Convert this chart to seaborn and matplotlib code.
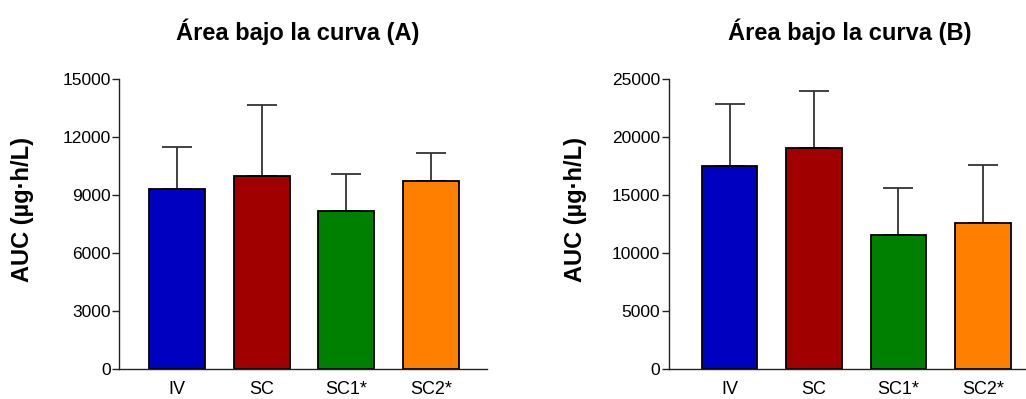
import numpy as np
import pandas as pd
import seaborn as sns
import matplotlib
matplotlib.use("Agg")
import matplotlib.pyplot as plt
from matplotlib import font_manager

# data (mean and upper SD)
categories = ["IV", "SC", "SC1*", "SC2*"]
colors = ["#0000C0", "#A00000", "#008000", "#FF8000"]

auc_a_mean = [9320, 10000, 8170, 9720]
auc_a_top = [11500, 13670, 10090, 11160]
auc_b_mean = [17520, 19020, 11550, 12610]
auc_b_top = [22870, 23990, 15580, 17610]

titles = ["Área bajo la curva (A)", "Área bajo la curva (B)"]
ylabel = "AUC (µg·h/L)"
yticks_a = [0, 3000, 6000, 9000, 12000, 15000]
yticks_b = [0, 5000, 10000, 15000, 20000, 25000]

sns.set_style("white")
plt.rcParams["font.family"] = ["Liberation Sans", "DejaVu Sans"]
plt.rcParams["text.color"] = "black"
plt.rcParams["axes.labelcolor"] = "black"
plt.rcParams["xtick.color"] = "black"
plt.rcParams["ytick.color"] = "black"

installed = {f.name for f in font_manager.fontManager.ttflist}
if "Liberation Sans Narrow" in installed:
    title_family, title_size = ["Liberation Sans Narrow", "Liberation Sans"], 20
else:
    title_family, title_size = ["Liberation Sans", "DejaVu Sans"], 17

fig = plt.figure(figsize=(10.26, 3.99), dpi=100)
ax_a = fig.add_axes([119 / 1026, 30 / 399, 368 / 1026, 290 / 399])
ax_b = fig.add_axes([668.7 / 1026, 30 / 399, 357.3 / 1026, 290 / 399])

panels = [
    (ax_a, auc_a_mean, auc_a_top, yticks_a, (-0.685, 3.66), 0.485),
    (ax_b, auc_b_mean, auc_b_top, yticks_b, (-0.72, 3.51), 0.507),
]

for i, (ax, means, tops, yticks, xlim, tx) in enumerate(panels):
    df = pd.DataFrame({"grupo": categories, "auc": means})
    sns.barplot(data=df, x="grupo", y="auc", hue="grupo", palette=colors,
                legend=False, width=0.66, edgecolor="black", linewidth=1.3,
                saturation=1, ax=ax, zorder=2)
    pos = np.arange(len(categories))
    upper = np.array(tops) - np.array(means)
    ax.errorbar(pos, means, yerr=[np.zeros(len(pos)), upper], fmt="none",
                ecolor="#333333", elinewidth=1.3, capsize=10.5, capthick=1.3,
                zorder=1)

    ax.set_ylim(0, yticks[-1])
    ax.set_yticks(yticks)
    ax.set_xlim(*xlim)
    ax.set_xlabel("")
    ax.set_ylabel(ylabel, fontsize=17, fontweight="bold")
    ax.yaxis.set_label_coords(-0.23, 0.55)
    ax.set_title(titles[i], fontsize=title_size, fontweight="bold",
                 family=title_family, pad=28, x=tx)

    for side in ["top", "right"]:
        ax.spines[side].set_visible(False)
    for side in ["left", "bottom"]:
        ax.spines[side].set_linewidth(1.0)
        ax.spines[side].set_color("#222222")
    ax.tick_params(axis="y", direction="out", length=5, width=1.0,
                   color="#222222", labelsize=12.5, pad=1, left=True)
    ax.tick_params(axis="x", length=0, labelsize=13, pad=9)

fig.savefig("out.png", dpi=100)
